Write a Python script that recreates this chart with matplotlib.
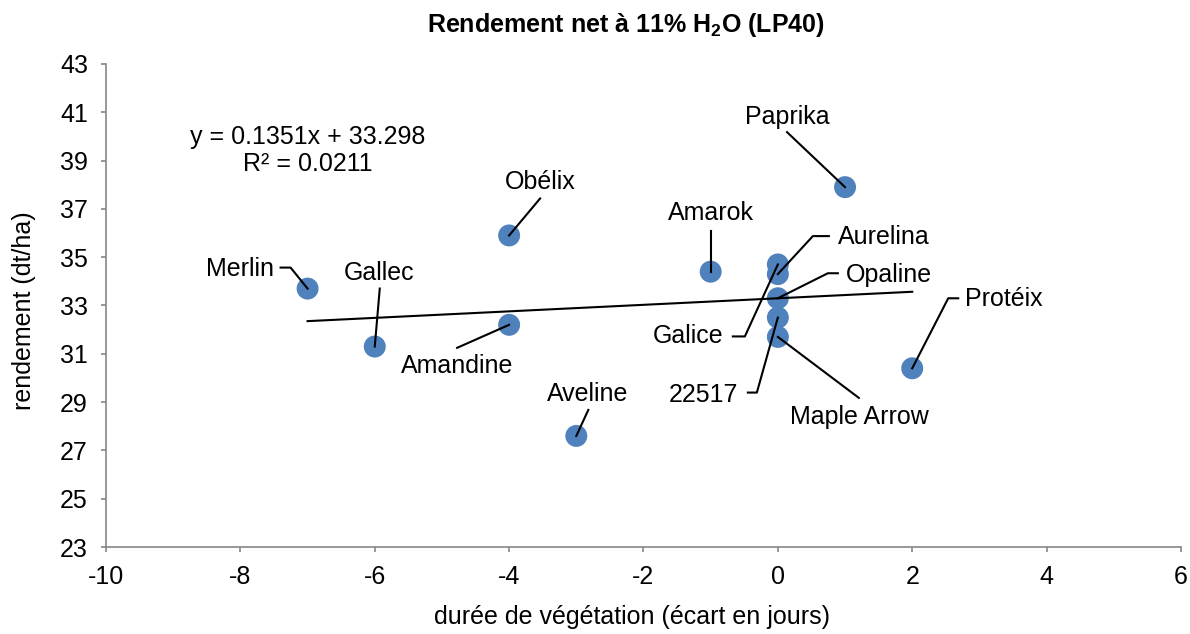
import matplotlib
matplotlib.use("Agg")
import matplotlib.pyplot as plt
import numpy as np
from matplotlib.transforms import ScaledTranslation

plt.rcParams["font.family"] = ["Liberation Sans", "DejaVu Sans"]
plt.rcParams["mathtext.fontset"] = "custom"
plt.rcParams["mathtext.rm"] = "Liberation Sans"
plt.rcParams["mathtext.bf"] = "Liberation Sans:bold"
plt.rcParams["axes.unicode_minus"] = False

varieties = ["Merlin", "Gallec", "Obélix", "Amandine", "Aveline", "Amarok",
             "Paprika", "Protéix", "Aurelina", "Opaline", "Galice", "22517",
             "Maple Arrow"]
duree = [-7, -6, -4, -4, -3, -1, 1, 2, 0, 0, 0, 0, 0]
rendement = [33.7, 31.3, 35.9, 32.2, 27.6, 34.4, 37.9, 30.4,
             34.3, 33.3, 34.7, 32.5, 31.7]

SLOPE = 0.1351
INTERCEPT = 33.298
R2 = 0.0211

x_ticks = np.arange(-10, 7, 2)
y_ticks = np.arange(23, 44, 2)

FS = 18

# label layout in pixels relative to each point: text offset, alignment, leader vertices
LABEL_LAYOUT = {
    "Merlin": ((-34, 20), "right", [(-27, 21), (-17, 21), (0, 0)]),
    "Gallec": ((4, 74), "center", [(5, 58), (0, 0)]),
    "Obélix": ((31, 53), "center", [(31, 37), (0, 0)]),
    "Amandine": ((-52, -41), "center", [(-52, -23), (0, 0)]),
    "Aveline": ((11, 42), "center", [(12, 26), (0, 0)]),
    "Amarok": ((0, 59), "center", [(0, 41), (0, 0)]),
    "Paprika": ((-58, 70), "center", [(-58, 55), (0, 0)]),
    "Protéix": ((53, 69), "left", [(46, 70), (36, 70), (0, 0)]),
    "Aurelina": ((60, 37), "left", [(51, 38), (35, 38), (0, 0)]),
    "Opaline": ((68, 23), "left", [(60, 25), (50, 25), (0, 0)]),
    "Galice": ((-54, -72), "right", [(-45, -72), (-33, -72), (0, 0)]),
    "22517": ((-40, -77), "right", [(-30, -75), (-21, -75), (0, 0)]),
    "Maple Arrow": ((82, -80), "center", [(81, -61), (0, 0)]),
}


def main():
    fig = plt.figure(figsize=(11.9, 6.34), dpi=100)
    ax = fig.add_axes([0.0891, 0.1372, 0.9033, 0.7619])

    ax.scatter(duree, rendement, s=250, color="#4f81bd", edgecolors="none", zorder=2)

    x_fit = np.array([min(duree), max(duree)])
    ax.plot(x_fit, SLOPE * x_fit + INTERCEPT, color="black", lw=1.5, zorder=3)

    for name, x, y in zip(varieties, duree, rendement):
        (tx, ty), ha, leader = LABEL_LAYOUT[name]
        trans = fig.dpi_scale_trans + ScaledTranslation(x, y, ax.transData)
        lx = [p[0] / 100 for p in leader]
        ly = [p[1] / 100 for p in leader]
        ax.plot(lx, ly, color="black", lw=1.5, transform=trans, zorder=4,
                clip_on=False)
        ax.annotate(name, (x, y), xytext=(tx, ty), textcoords="offset pixels",
                    ha=ha, va="center", fontsize=FS, zorder=5)

    ax.text(0.188, 0.849, f"y = {SLOPE}x + {INTERCEPT}", transform=ax.transAxes,
            ha="center", va="center", fontsize=FS)
    ax.text(0.188, 0.793, f"R² = {R2}", transform=ax.transAxes,
            ha="center", va="center", fontsize=FS)

    ax.set_xlim(-10, 6)
    ax.set_ylim(23, 43)
    ax.set_xticks(x_ticks)
    ax.set_yticks(y_ticks)
    ax.spines["top"].set_visible(False)
    ax.spines["right"].set_visible(False)
    for side in ("left", "bottom"):
        ax.spines[side].set_color("#868686")
        ax.spines[side].set_linewidth(1.2)
    ax.tick_params(direction="out", length=3.6, width=1.2, color="#868686",
                   labelsize=FS)
    ax.tick_params(axis="y", pad=9.4)
    ax.tick_params(axis="x", pad=9.5)

    ax.set_xlabel("durée de végétation (écart en jours)", fontsize=FS, va="center")
    ax.xaxis.set_label_coords(0.489, -0.145)
    ax.set_ylabel("rendement (dt/ha)", fontsize=FS, va="center")
    ax.yaxis.set_label_coords(-0.0763, 0.489)

    fig.text(626 / 1190, 1 - 25 / 634, r"Rendement net à 11% H$_\mathbf{2}$O (LP40)",
             ha="center", va="center", fontsize=FS, fontweight="bold")

    fig.savefig("out.png", dpi=100)
    plt.close(fig)


if __name__ == "__main__":
    main()
